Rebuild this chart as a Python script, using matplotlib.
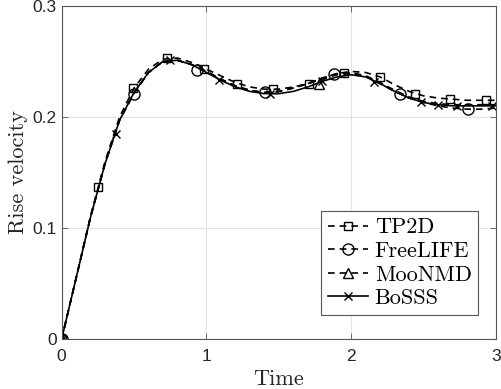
import matplotlib
matplotlib.use('Agg')
import matplotlib.pyplot as plt
import numpy as np

# line data (time step 0.1)
t = [0.0, 0.1, 0.2, 0.3, 0.4, 0.5, 0.6, 0.7, 0.8, 0.9, 1.0,
     1.1, 1.2, 1.3, 1.4, 1.5, 1.6, 1.7, 1.8, 1.9, 2.0,
     2.1, 2.2, 2.3, 2.4, 2.5, 2.6, 2.7, 2.8, 2.9, 3.0]
tp2d = [0, 0.055, 0.111, 0.160, 0.200, 0.226, 0.243, 0.252, 0.253, 0.249, 0.243,
        0.237, 0.231, 0.227, 0.225, 0.225, 0.227, 0.230, 0.235, 0.239, 0.241,
        0.240, 0.236, 0.229, 0.223, 0.219, 0.217, 0.216, 0.215, 0.215, 0.215]
freelife = [0, 0.055, 0.110, 0.158, 0.197, 0.221, 0.240, 0.250, 0.251, 0.247, 0.241,
            0.234, 0.228, 0.224, 0.222, 0.223, 0.226, 0.230, 0.235, 0.239, 0.240,
            0.237, 0.230, 0.223, 0.217, 0.213, 0.210, 0.208, 0.207, 0.207, 0.208]
moonmd = [0, 0.055, 0.110, 0.158, 0.197, 0.222, 0.240, 0.250, 0.251, 0.247, 0.241,
          0.234, 0.228, 0.224, 0.222, 0.223, 0.226, 0.230, 0.234, 0.238, 0.239,
          0.237, 0.231, 0.224, 0.218, 0.214, 0.212, 0.211, 0.211, 0.211, 0.211]
bosss = [0, 0.055, 0.110, 0.158, 0.197, 0.222, 0.240, 0.250, 0.251, 0.247, 0.240,
         0.233, 0.227, 0.223, 0.221, 0.221, 0.223, 0.227, 0.232, 0.236, 0.238,
         0.236, 0.230, 0.223, 0.217, 0.213, 0.211, 0.210, 0.210, 0.210, 0.210]

# marker data
tp2d_mt = [0, 0.25, 0.49, 0.73, 0.985, 1.21, 1.46, 1.71, 1.95, 2.20, 2.44, 2.68, 2.93]
tp2d_mv = [0, 0.137, 0.226, 0.253, 0.243, 0.230, 0.225, 0.230, 0.240, 0.236, 0.221, 0.216, 0.215]
freelife_mt = [0, 0.5, 0.934, 1.405, 1.88, 2.34, 2.81]
freelife_mv = [0, 0.2205, 0.2426, 0.2225, 0.239, 0.2205, 0.207]
moonmd_mt = [0, 1.775]
moonmd_mv = [0, 0.230]
bosss_mt = [0, 0.375, 0.75, 1.09, 1.44, 1.80, 2.155, 2.48, 2.60, 2.73, 2.97]
bosss_mv = [0, 0.185, 0.251, 0.233, 0.221, 0.232, 0.2315, 0.2135, 0.211, 0.210, 0.210]

labels = ['TP2D', 'FreeLIFE', 'MooNMD', 'BoSSS']

fig = plt.figure(figsize=(5.01, 3.89), dpi=100)
ax = fig.add_axes([0.123, 0.128, 0.867, 0.857])

series = [
    (tp2d, tp2d_mt, tp2d_mv, '--', 's', 6),
    (freelife, freelife_mt, freelife_mv, '--', 'o', 8),
    (moonmd, moonmd_mt, moonmd_mv, '--', '^', 7),
    (bosss, bosss_mt, bosss_mv, '-', 'x', 6),
]
handles = []
for v, mt, mv, ls, mk, ms in series:
    l, = ax.plot(t, v, ls, color='k', lw=1.2, dashes=(4, 3) if ls == '--' else (None, None))
    m, = ax.plot(mt, mv, ls='none', marker=mk, ms=ms, mfc='none', mec='k', mew=1.0)
    handles.append((l, m))

ax.set_xlim(0, 3)
ax.set_ylim(0, 0.3)
ax.set_xticks([0, 1, 2, 3])
ax.set_yticks([0, 0.1, 0.2, 0.3])
ax.set_yticklabels(['0', '0.1', '0.2', '0.3'])
ax.grid(True, color='#e2e2e2', lw=0.8)
ax.set_axisbelow(True)
for s in ax.spines.values():
    s.set_color('#555555')
    s.set_linewidth(0.8)
ax.tick_params(direction='in', length=4, width=0.6, color='#555555',
               labelsize=12.5, labelcolor='#262626', top=True, right=True,
               labeltop=False, labelright=False)
ax.tick_params(axis='x', pad=7)
for lab in ax.get_xticklabels() + ax.get_yticklabels():
    lab.set_family('Liberation Sans')

ax.set_xlabel('Time', family='cmr10', fontsize=16, color='#262626', labelpad=4)
ax.set_ylabel('Rise velocity', family='cmr10', fontsize=16, color='#262626', labelpad=3)

leg = ax.legend(handles, labels, loc='lower right', bbox_to_anchor=(0.985, 0.04),
                prop={'family': 'cmr10', 'size': 16}, handlelength=1.8,
                handletextpad=0.3, labelspacing=0.18, borderpad=0.3,
                fancybox=False, framealpha=1, edgecolor='#555555')
leg.get_frame().set_linewidth(0.8)

fig.savefig('out.png', dpi=100)
